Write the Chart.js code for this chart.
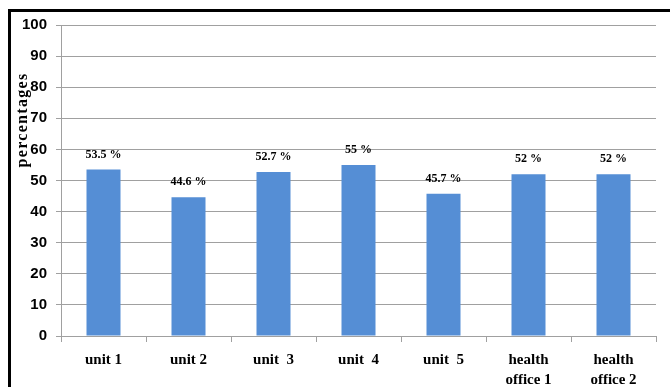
<!DOCTYPE html>
<html>
<head>
<meta charset="utf-8">
<script src="https://cdn.jsdelivr.net/npm/chart.js@4.4.1/dist/chart.umd.min.js"></script>
<style>
  body { margin: 0; background: #fff; }
  .wrap { position: relative; width: 670px; height: 387px; overflow: hidden; }
  .frame { position: absolute; left: 8px; top: 9px; right: -10px; bottom: -10px;
           border-top: 3px solid #000; border-left: 3px solid #000; }
  canvas { position: absolute; left: 0; top: 0; }
</style>
</head>
<body>
<div class="wrap">
  <div class="frame"></div>
  <canvas id="bar-chart" width="670" height="387"></canvas>
</div>
<script>
const ctx = document.getElementById("bar-chart");

// data
const categories = ["unit 1", "unit 2", "unit  3", "unit  4", "unit  5", ["health", "office 1"], ["health", "office 2"]];
const values = [53.5, 44.6, 52.7, 55, 45.7, 52, 52];
const valueLabels = ["53.5 %", "44.6 %", "52.7 %", "55 %", "45.7 %", "52 %", "52 %"];
const yTicks = [0, 10, 20, 30, 40, 50, 60, 70, 80, 90, 100];
const yTitle = "percentages";

const gridColor = "#a0a0a0";

// labels over the bars + rotated y title
const extraText = {
  id: "extraText",
  afterDatasetsDraw(chart) {
    const c = chart.ctx;
    const meta = chart.getDatasetMeta(0);
    c.save();
    c.fillStyle = "#000";
    c.font = "bold 12px 'Liberation Serif'";
    c.textAlign = "center";
    c.textBaseline = "middle";
    meta.data.forEach((bar, i) => {
      c.fillText(valueLabels[i], bar.x, bar.y - 15);
    });
    c.restore();

    c.save();
    c.translate(23, 120);
    c.rotate(-Math.PI / 2);
    c.font = "bold 16px 'Liberation Serif'";
    if ("letterSpacing" in c) c.letterSpacing = "1.3px";
    c.textAlign = "center";
    c.textBaseline = "middle";
    c.fillStyle = "#000";
    c.fillText(yTitle, 0, 0);
    c.restore();
  },
};

new Chart(ctx, {
  type: "bar",
  data: {
    labels: categories,
    datasets: [
      {
        data: values,
        backgroundColor: "#558ed5",
        borderWidth: 0,
        barPercentage: 0.4,
        categoryPercentage: 1,
      },
    ],
  },
  options: {
    responsive: false,
    animation: false,
    devicePixelRatio: 1,
    layout: { padding: { top: 25, right: 14, left: 0, bottom: 0 } },
    scales: {
      x: {
        afterFit: (s) => { s.height = 51; },
        grid: {
          drawOnChartArea: false,
          drawTicks: true,
          tickLength: 6,
          color: gridColor,
          offset: true,
        },
        border: { color: gridColor },
        ticks: {
          color: "#000",
          padding: 8,
          font: { family: "'Liberation Serif'", size: 15, weight: "bold", lineHeight: 1.35 },
        },
      },
      y: {
        min: 0,
        max: 100,
        afterFit: (s) => { s.width = 61; },
        afterBuildTicks: (s) => { s.ticks = yTicks.map((v) => ({ value: v })); },
        grid: { color: gridColor, tickLength: 5 },
        border: { color: gridColor },
        ticks: {
          color: "#000",
          padding: 9,
          font: { family: "'Liberation Sans'", size: 15, weight: "bold" },
        },
      },
    },
    plugins: {
      legend: { display: false },
      tooltip: { enabled: false },
    },
  },
  plugins: [extraText],
});
</script>
</body>
</html>
